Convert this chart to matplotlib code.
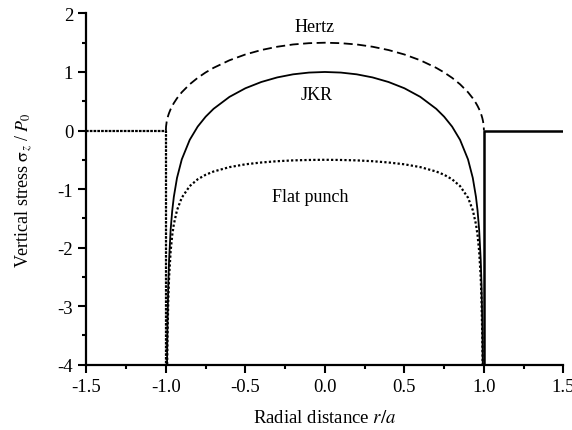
import matplotlib
matplotlib.use("Agg")
import matplotlib.pyplot as plt
from matplotlib.ticker import MultipleLocator

plt.rcParams['font.family'] = ['Liberation Serif', 'DejaVu Serif']
plt.rcParams['mathtext.fontset'] = 'stix'

# radial positions r/a
r = [-0.999, -0.995, -0.993, -0.99, -0.985, -0.98, -0.97, -0.96, -0.95, -0.93, -0.9,
     -0.85, -0.8, -0.75, -0.7, -0.6, -0.5, -0.4, -0.3, -0.2, -0.1,
     0.0,
     0.1, 0.2, 0.3, 0.4, 0.5, 0.6, 0.7, 0.75, 0.8, 0.85,
     0.9, 0.93, 0.95, 0.96, 0.97, 0.98, 0.985, 0.99, 0.993, 0.995, 0.999]

hertz = [0.067, 0.150, 0.177, 0.212, 0.259, 0.299, 0.365, 0.420, 0.468, 0.551, 0.654,
         0.790, 0.900, 0.992, 1.071, 1.200, 1.299, 1.375, 1.431, 1.470, 1.492,
         1.500,
         1.492, 1.470, 1.431, 1.375, 1.299, 1.200, 1.071, 0.992, 0.900, 0.790,
         0.654, 0.551, 0.468, 0.420, 0.365, 0.299, 0.259, 0.212, 0.177, 0.150, 0.067]

jkr = [-11.11, -4.856, -4.056, -3.333, -2.639, -2.214, -1.692, -1.366, -1.133, -0.809, -0.493,
       -0.159, 0.067, 0.236, 0.371, 0.575, 0.722, 0.829, 0.907, 0.960, 0.990,
       1.000,
       0.990, 0.960, 0.907, 0.829, 0.722, 0.575, 0.371, 0.236, 0.067, -0.159,
       -0.493, -0.809, -1.133, -1.366, -1.692, -2.214, -2.639, -3.333, -4.056, -4.856, -11.11]

punch = [-11.18, -5.006, -4.233, -3.544, -2.898, -2.513, -2.057, -1.786, -1.601, -1.360, -1.147,
         -0.949, -0.833, -0.756, -0.700, -0.625, -0.577, -0.546, -0.524, -0.510, -0.503,
         -0.500,
         -0.503, -0.510, -0.524, -0.546, -0.577, -0.625, -0.700, -0.756, -0.833, -0.949,
         -1.147, -1.360, -1.601, -1.786, -2.057, -2.513, -2.898, -3.544, -4.233, -5.006, -11.18]

# Hertz goes to zero at the contact edge
hertz_edge_r = [-1.0, 1.0]
hertz_edge = [0.0, 0.0]

# outside the contact: zero stress, singular edge drawn as vertical line
left_r = [-1.5, -1.0, -1.0]
left_s = [0.0, 0.0, -4.0]
right_r = [1.5, 1.0, 1.0]
right_s = [0.0, 0.0, -4.0]

fig = plt.figure(figsize=(5.72, 4.31), dpi=100)
ax = fig.add_axes([0.151, 0.1515, 0.834, 0.815])

ax.plot([hertz_edge_r[0]] + r + [hertz_edge_r[1]],
        [hertz_edge[0]] + hertz + [hertz_edge[1]],
        color='black', lw=1.3, linestyle=(0, (5, 2.5)))
ax.plot(r, jkr, color='black', lw=1.3)
ax.plot(r, punch, color='black', lw=1.6, linestyle=(0, (1, 1)))
ax.plot(left_r, left_s, color='black', lw=1.6, linestyle=(0, (1.2, 0.5)))
ax.plot(right_r, right_s, color='black', lw=1.8)

ax.text(-0.066, 1.77, 'Hertz', fontsize=13, ha='center', va='center')
ax.text(-0.05, 0.62, 'JKR', fontsize=13, ha='center', va='center')
ax.text(-0.094, -1.13, 'Flat punch', fontsize=13, ha='center', va='center')

ax.set_xlim(-1.5, 1.5)
ax.set_ylim(-4, 2)
ax.xaxis.set_minor_locator(MultipleLocator(0.25))
ax.yaxis.set_minor_locator(MultipleLocator(0.5))
ax.set_xticks([-1.5, -1.0, -0.5, 0.0, 0.5, 1.0, 1.5])
ax.set_xticklabels(['-1.5', '-1.0', '-0.5', '0.0', '0.5', '1.0', '1.5'])
ax.set_yticks([-4, -3, -2, -1, 0, 1, 2])
ax.set_yticklabels(['-4', '-3', '-2', '-1', '0', '1', '2'])

for s in ['top', 'right']:
    ax.spines[s].set_visible(False)
for s in ['left', 'bottom']:
    ax.spines[s].set_linewidth(1.6)

ax.tick_params(which='major', direction='out', length=6, width=1.5, labelsize=13.5)
ax.tick_params(which='minor', direction='out', length=3, width=1.5)

ax.set_xlabel('Radial distance $r/a$', fontsize=13.5, labelpad=10)
ax.set_ylabel(r'Vertical stress $\mathrm{\sigma}_z$ / $P_0$', fontsize=13, labelpad=16)

fig.savefig('out.png', dpi=100)
